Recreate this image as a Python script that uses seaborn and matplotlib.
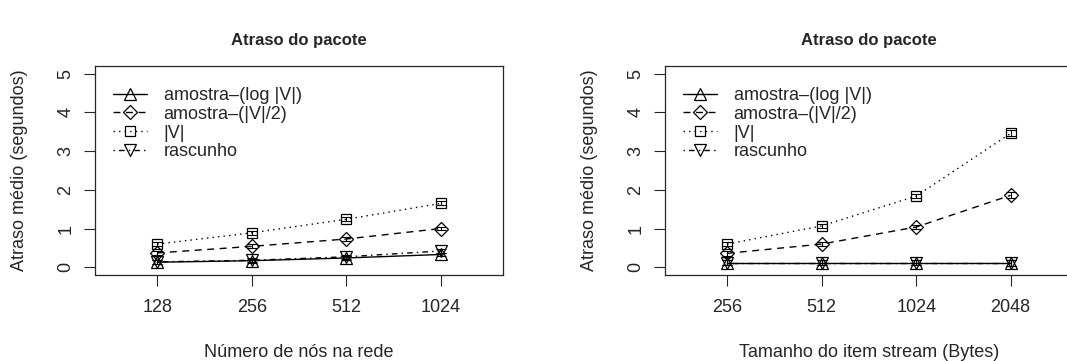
import matplotlib
matplotlib.use("Agg")
import matplotlib.pyplot as plt
import seaborn as sns
import numpy as np

sns.set_style("ticks")
plt.rcParams['font.family'] = ['Liberation Sans', 'DejaVu Sans']

# ---- data ----
series_labels = ["amostra–(log |V|)", "amostra–(|V|/2)", "|V|", "rascunho"]

left_ticks = ["128", "256", "512", "1024"]
left_log = [0.13, 0.17, 0.24, 0.33]
left_half = [0.37, 0.54, 0.73, 1.00]
left_full = [0.60, 0.89, 1.24, 1.65]
left_sketch = [0.14, 0.18, 0.27, 0.42]
left_err = [0.05, 0.05, 0.05, 0.05]

right_ticks = ["256", "512", "1024", "2048"]
right_log = [0.12, 0.12, 0.12, 0.12]
right_half = [0.36, 0.60, 1.04, 1.86]
right_full = [0.60, 1.07, 1.84, 3.46]
right_sketch = [0.12, 0.12, 0.12, 0.12]
right_err = [0.06, 0.06, 0.06, 0.08]

title = "Atraso do pacote"
ylabel = "Atraso médio (segundos)"
left_xlabel = "Número de nós na rede"
right_xlabel = "Tamanho do item stream (Bytes)"

styles = [
    dict(marker="^", dashes=None, ms=8.5),
    dict(marker="D", dashes=(5, 4), ms=7),
    dict(marker="s", dashes=(1, 3), ms=7),
    dict(marker="v", dashes=(1, 3, 4, 3), ms=8.5),
]

W, H = 1067, 361
fig = plt.figure(figsize=(W / 100, H / 100), dpi=100)
FS = 13

def panel(left_px, ticks, data, err, xlabel):
    ax = fig.add_axes([left_px / W, (H - 275) / H, 408 / W, 209 / H])
    x = np.arange(1, len(ticks) + 1)
    for lab, vals, st in zip(series_labels, data, styles):
        sns.lineplot(x=x, y=vals, ax=ax, color="black", lw=1, label=lab,
                     marker=st["marker"], markersize=st["ms"],
                     markerfacecolor="none", markeredgecolor="black",
                     markeredgewidth=0.9)
        line = ax.get_lines()[-1]
        if st["dashes"] is not None:
            line.set_dashes(st["dashes"])
        ax.errorbar(x, vals, yerr=err, fmt="none", ecolor="black",
                    elinewidth=0.8, capsize=3.5, capthick=0.8)
    ax.set_xlim(0.34, 4.66)
    ax.set_ylim(-0.2, 5.2)
    ax.set_xticks(x)
    ax.set_xticklabels(ticks, fontsize=FS)
    ax.set_yticks([0, 1, 2, 3, 4, 5])
    ax.set_yticklabels(["0", "1", "2", "3", "4", "5"], fontsize=FS,
                       rotation=90, va="center")
    ax.tick_params(axis="x", length=8, width=0.8, pad=9)
    ax.tick_params(axis="y", length=8, width=0.8, pad=7)
    for s in ax.spines.values():
        s.set_visible(True)
        s.set_linewidth(0.9)
    ax.set_xlabel(xlabel, fontsize=FS)
    ax.xaxis.set_label_coords(0.5, -0.33)
    ax.set_ylabel(ylabel, fontsize=FS)
    ax.yaxis.set_label_coords(-0.165, 0.5)
    ax.text(0.5, 1.12, title, transform=ax.transAxes, ha="center", va="center",
            fontsize=12, fontweight="bold")
    ax.legend(loc="upper left", bbox_to_anchor=(0.044, 0.90), frameon=False,
              fontsize=FS, handlelength=1.9, handletextpad=0.9,
              labelspacing=0.1, borderpad=0, borderaxespad=0)
    return ax

panel(95, left_ticks, [left_log, left_half, left_full, left_sketch], left_err, left_xlabel)
panel(665, right_ticks, [right_log, right_half, right_full, right_sketch], right_err, right_xlabel)

fig.savefig("out.png", dpi=100)
